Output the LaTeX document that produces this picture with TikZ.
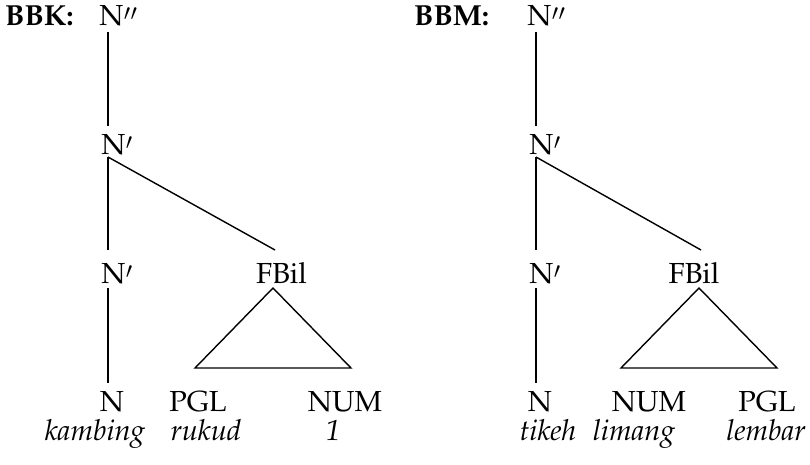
\documentclass[tikz,border=0pt]{standalone}
\usepackage[T1]{fontenc}
\usepackage{mathpazo}
\usetikzlibrary{calc}
\newcommand{\barone}{\raisebox{-6.5pt}{$'$}}
\newcommand{\bartwo}{\raisebox{-6.5pt}{$''$}}
\begin{document}
\begin{tikzpicture}[x=1pt,y=-1pt,
  cat/.style={inner sep=0pt, anchor=base, text height=20pt, text depth=0pt,
    font=\fontsize{29}{34}\selectfont},
  barcat/.style={cat, anchor=base west},
  word/.style={inner sep=0pt, anchor=base, font=\fontsize{29}{34}\selectfont\itshape},
  tag/.style={inner sep=0pt, anchor=base west, font=\fontsize{29}{34}\selectfont\bfseries},
  branch/.style={line width=1.4pt}]
\useasboundingbox (0,0) rectangle (810,464);

% ---------- BBK tree ----------
\node[tag] (bbk) at (5,25) {BBK:};
\node[barcat] (Ltop)  at (99.2,25)   {N\bartwo};
\node[barcat] (Lbar1) at (101.2,154) {N\barone};
\node[barcat] (Lbar2) at (101.2,283) {N\barone};
\node[cat] (Lfb)   at (281.5,283) {FBil};
\node[cat] (Ln)    at (112,411)   {N};
\node[cat] (Lpgl)  at (198,411)   {PGL};
\node[cat] (Lnum)  at (345,411)   {NUM};
\node[word] (Lw1) at (95,440)  {kambing};
\node[word] (Lw2) at (206,440) {rukud};
\node[word] (Lw3) at (333,440) {1};

\coordinate (Lapex) at (273,288);
\coordinate (Lbl)   at (195,368);
\coordinate (Lbr)   at (351,368);

\draw[branch] ($(Ltop.base west)+(8.8,7)$) -- ($(Lbar1.base west)+(6.8,-28)$);
\draw[branch] ($(Lbar1.base west)+(6.8,3)$) -- ($(Lbar2.base west)+(6.8,-33)$);
\draw[branch] ($(Lbar1.base west)+(6.8,3)$) -- ($(Lfb.base)+(-6.5,-33)$);
\draw[branch] ($(Lbar2.base west)+(6.8,5)$) -- ($(Ln.base)+(-4,-28)$);
\draw[branch] (Lapex) -- (Lbl) -- (Lbr) -- cycle;

% ---------- BBM tree ----------
\node[tag] (bbm) at (414,25) {BBM:};
\node[barcat] (Rtop)  at (527.2,25)  {N\bartwo};
\node[barcat] (Rbar1) at (529.2,154) {N\barone};
\node[barcat] (Rbar2) at (529.2,283) {N\barone};
\node[cat] (Rfb)   at (694,283)   {FBil};
\node[cat] (Rn)    at (540,411)   {N};
\node[cat] (Rnum)  at (649,411)   {NUM};
\node[cat] (Rpgl)  at (767,411)   {PGL};
\node[word] (Rw1) at (548,440) {tikeh};
\node[word] (Rw2) at (634,440) {limang};
\node[word] (Rw3) at (766,440) {lembar};

\coordinate (Rapex) at (699,288);
\coordinate (Rbl)   at (621,368);
\coordinate (Rbr)   at (777,368);

\draw[branch] ($(Rtop.base west)+(8.8,7)$) -- ($(Rbar1.base west)+(6.8,-28)$);
\draw[branch] ($(Rbar1.base west)+(6.8,3)$) -- ($(Rbar2.base west)+(6.8,-33)$);
\draw[branch] ($(Rbar1.base west)+(6.8,3)$) -- ($(Rfb.base)+(7,-33)$);
\draw[branch] ($(Rbar2.base west)+(6.8,5)$) -- ($(Rn.base)+(-4,-28)$);
\draw[branch] (Rapex) -- (Rbl) -- (Rbr) -- cycle;
\end{tikzpicture}
\end{document}
